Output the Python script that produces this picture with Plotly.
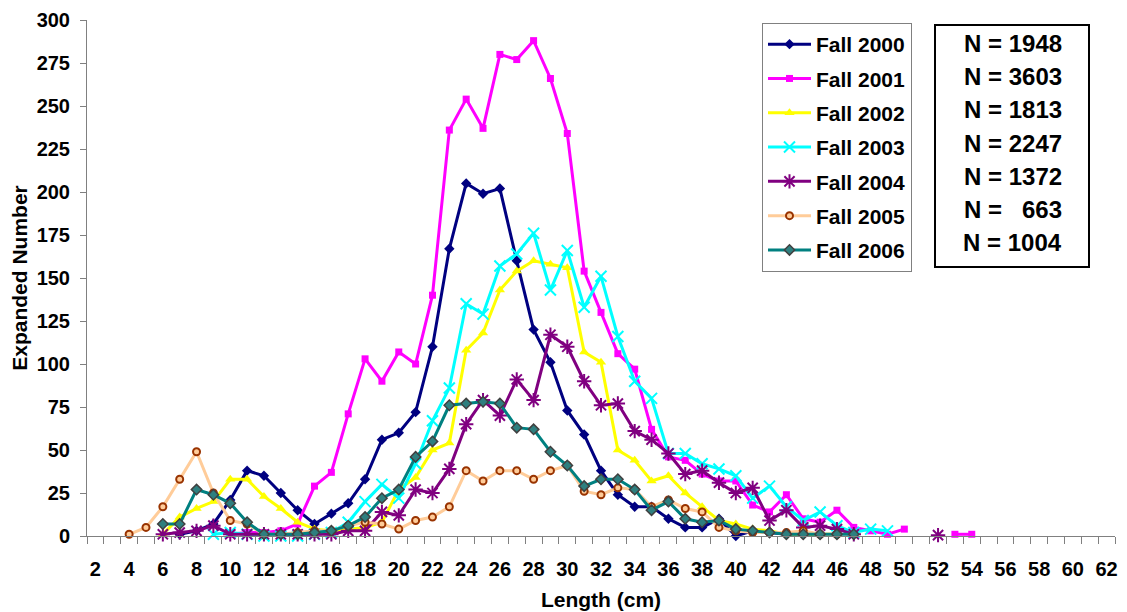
import plotly.graph_objects as go

# Length classes (cm) shown on the category axis
length_cm = list(range(4, 55))
tick_labels = list(range(2, 63, 2))

N = None
fall_2000 = [N, N, N, 1, 3, 7, 21, 38, 35, 25, 15, 7, 13, 19, 33, 56, 60, 72, 110, 167,
             205, 199, 202, 160, 120, 101, 73, 59, 38, 24, 17, 17, 10, 5, 5, 10, 0, 3, 2, 1,
             1, 1, N, N, N, N, N, N, N, N, N]
fall_2001 = [N, N, N, N, N, N, 1, 2, 2, 3, 7, 29, 37, 71, 103, 90, 107, 100, 140, 236,
             254, 237, 280, 277, 288, 266, 234, 154, 130, 106, 97, 62, 46, 44, 36, 32, 32, 18, 14, 24,
             10, 8, 15, 5, 3, 1, 4, N, N, 1, 1]
fall_2002 = [N, N, 1, 11, 16, 20, 33, 33, 23, 16, 8, 4, 3, 4, 5, 8, 27, 34, 50, 54,
             108, 118, 143, 154, 160, 158, 156, 107, 101, 50, 44, 32, 35, 25, 17, 9, 7, 4, 3, 1,
             1, 1, 1, N, N, N, N, N, N, N, N]
fall_2003 = [N, N, N, N, N, 1, 2, 1, 0, 0, 0, 1, 2, 8, 20, 30, 22, 42, 67, 86,
             135, 129, 157, 164, 176, 143, 166, 133, 151, 116, 90, 80, 48, 48, 42, 39, 35, 22, 29, 17,
             9, 14, 6, 2, 4, 3, N, N, N, N, N]
fall_2004 = [N, N, 1, 2, 3, 6, 1, 1, 1, 1, 1, 1, 1, 3, 3, 14, 12, 27, 25, 39,
             65, 79, 70, 91, 79, 117, 110, 90, 76, 77, 61, 56, 48, 36, 38, 31, 25, 28, 9, 15,
             5, 6, 4, 1, N, N, N, N, 0.5, N, N]
fall_2005 = [1, 5, 17, 33, 49, 25, 9, 7, 1, 1, 2, 3, 3, 6, 8, 7, 4, 9, 11, 17,
             38, 32, 38, 38, 33, 38, 41, 26, 24, 28, 27, 17, 21, 16, 14, 5, 3, 2, 2, 2,
             3, 1, 1, N, N, N, N, N, N, N, N]
fall_2006 = [N, N, 7, 7, 27, 24, 19, 8, 1, 1, 1, 2, 3, 6, 11, 22, 27, 46, 55, 76,
             77, 78, 77, 63, 62, 49, 41, 29, 33, 33, 27, 15, 20, 10, 8, 9, 4, 3, 2, 1,
             1, 1, 1, 1, N, N, N, N, N, N, N]

series_names = ["Fall 2000", "Fall 2001", "Fall 2002", "Fall 2003",
                "Fall 2004", "Fall 2005", "Fall 2006"]
sample_sizes = ["1948", "3603", "1813", "2247", "1372", "\u00a0\u00a0663", "1004"]

FONT = "Liberation Sans, Arial, sans-serif"

styles = [
    dict(line="#000080", marker=dict(symbol="diamond", size=8, color="#000080")),
    dict(line="#FF00FF", marker=dict(symbol="square", size=7, color="#FF00FF")),
    dict(line="#FFFF00", marker=dict(symbol="triangle-up", size=9, color="#FFFF00")),
    dict(line="#00FFFF", marker=dict(symbol="x-thin-open", size=11,
                                     line=dict(color="#33CCCC", width=2))),
    dict(line="#800080", marker=dict(symbol="asterisk-open", size=12,
                                     line=dict(color="#800080", width=2))),
    dict(line="#FFCC99", marker=dict(symbol="circle", size=7, color="#FFCC99",
                                     line=dict(color="#993300", width=2))),
    dict(line="#008080", marker=dict(symbol="diamond", size=8, color="#2E7F7F",
                                     line=dict(color="#404040", width=1.5))),
]

all_series = [fall_2000, fall_2001, fall_2002, fall_2003, fall_2004, fall_2005, fall_2006]

fig = go.Figure()
for name, vals, st in zip(series_names, all_series, styles):
    fig.add_trace(go.Scatter(
        x=length_cm, y=vals, name=name, mode="lines+markers",
        line=dict(color=st["line"], width=3),
        marker=st["marker"], connectgaps=False, cliponaxis=False,
        legendgroup=name,
    ))

W, H = 1127, 612
# plot-area geometry in window pixels
L, R, T, B = 87, 1115, 20, 536


def px(x):
    return (x - L) / (R - L)


def py(y):
    return (B - y) / (B - T)


fig.add_shape(type="rect", xref="paper", yref="paper",
              x0=px(935), x1=px(1089), y0=py(267), y1=py(25),
              line=dict(color="black", width=2), fillcolor="white", layer="above")
line_y = [44, 77, 110, 143, 176, 209, 242]
for s, yy in zip(sample_sizes, line_y):
    fig.add_annotation(xref="paper", yref="paper", x=px(1064), y=py(yy),
                       xanchor="right", yanchor="middle", showarrow=False,
                       text="N = " + s,
                       font=dict(family=FONT, size=24, color="black", weight="bold"))

fig.update_layout(
    width=W, height=H,
    margin=dict(l=L, r=W - R, t=T, b=H - B, autoexpand=False),
    paper_bgcolor="white", plot_bgcolor="white",
    font=dict(family=FONT, color="black"),
    showlegend=True,
    legend=dict(x=px(762), y=py(23), xanchor="left", yanchor="top",
                bgcolor="white", bordercolor="#808080", borderwidth=1,
                font=dict(family=FONT, size=21, color="black", weight="bold"),
                tracegroupgap=4, itemwidth=43),
    xaxis=dict(range=[1.5, 62.5], tickmode="array", tickvals=tick_labels,
               ticks="outside", ticklen=7, tickcolor="rgba(0,0,0,0)",
               ticklabelstandoff=8, automargin=False,
               showline=True, linecolor="#808080", linewidth=1,
               showgrid=False, zeroline=False,
               minor=dict(tickmode="linear", tick0=1.5, dtick=1, ticks="outside",
                          ticklen=7, tickcolor="#808080", tickwidth=1, showgrid=False),
               tickfont=dict(family=FONT, size=20, color="black", weight="bold"),
               title=dict(text="Length (cm)", standoff=13,
                          font=dict(family=FONT, size=21, color="black", weight="bold"))),
    yaxis=dict(range=[0, 300], tickmode="linear", tick0=0, dtick=25,
               ticks="outside", ticklen=6, tickcolor="#808080",
               ticklabelstandoff=6, automargin=False,
               showline=True, linecolor="#808080", linewidth=1,
               showgrid=False, zeroline=False,
               tickfont=dict(family=FONT, size=20, color="black", weight="bold"),
               title=dict(text="Expanded Number", standoff=3,
                          font=dict(family=FONT, size=21, color="black", weight="bold"))),
)

# remove the default page margin so the figure fills the window exactly
fig.write_html("out.html", config={"displayModeBar": False},
               post_script="document.body.style.margin='0';document.body.style.overflow='hidden';")
